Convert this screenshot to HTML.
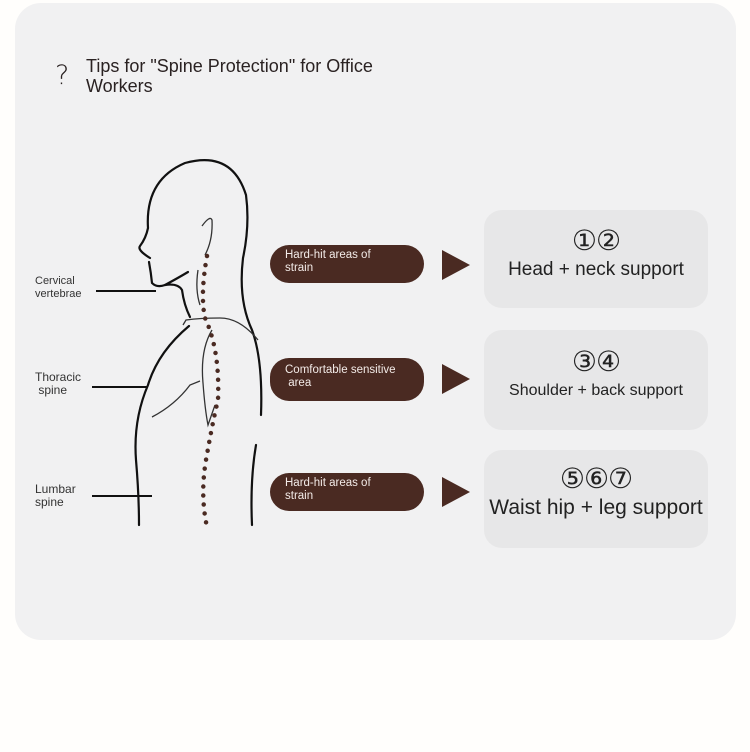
<!DOCTYPE html>
<html><head><meta charset="utf-8"><style>
html,body{margin:0;padding:0;background:#fffefc;width:750px;height:752px;overflow:hidden;font-family:"Liberation Sans","DejaVu Sans",sans-serif}
.card{position:absolute;left:15px;top:3px;width:721px;height:637px;background:#f1f1f2;border-radius:26px}
.t{position:absolute;color:#2a2222}
.pill{position:absolute;left:270px;width:154px;height:38px;background:#4a2a22;border-radius:19px;color:#f3ebe8;font-size:11.5px;line-height:13px;box-sizing:border-box;padding:4px 0 0 15px}
.arr{position:absolute;left:442px;width:0;height:0;border-top:15px solid transparent;border-bottom:15px solid transparent;border-left:28px solid #4a2a22}
.box{position:absolute;left:484px;width:224px;background:#e7e7e8;border-radius:18px;text-align:center;color:#222}
.box .n{font-size:28px;line-height:28px;font-family:"DejaVu Sans",sans-serif;font-weight:300;letter-spacing:-1px}
.lbl{position:absolute;font-size:11px;line-height:13px;color:#333}
</style></head><body>
<div class="card"></div>
<div class="t" style="left:55px;top:60px;font-size:27px;font-family:'DejaVu Sans',sans-serif;font-weight:300">?</div>
<div class="t" style="left:86px;top:56px;font-size:18px;line-height:20px">Tips for "Spine Protection" for Office<br>Workers</div>

<svg style="position:absolute;left:0;top:0" width="750" height="752">
<g fill="none" stroke="#111" stroke-width="2.2" stroke-linecap="round">
<path d="M150 258 Q137 250 140 246 Q146 238 148 228 Q145 180 185 163 Q232 150 246 195 Q250 225 243 258 Q238 300 252 330 Q263 360 261 415"/>
<path d="M149 262 Q151 273 152 283 Q157 288 165 285 Q178 278 188 272"/>
<path d="M165 285 Q178 283 182 290 Q184 305 190 317"/>
<path d="M189 326 Q158 352 148 385 Q133 420 136 460 Q139 495 139 525"/>
<path d="M256 445 Q250 480 252 525"/>
</g>
<g fill="none" stroke="#333" stroke-width="1.3">
<path d="M202 226 Q210 215 212 220 Q213 240 205 255"/>
<path d="M198 270 Q195 290 200 305"/>
<path d="M183 325 L186 320 Q200 318 220 318 Q240 318 258 340"/>
<path d="M212 330 Q200 350 203 383"/>
<path d="M152 417 Q175 405 190 385 L200 381"/>
<path d="M203 383 Q205 410 208 425 L215 405"/>
</g>
<g stroke="#111" stroke-width="2">
<line x1="96" y1="291" x2="156" y2="291"/>
<line x1="92" y1="387" x2="147" y2="387"/>
<line x1="92" y1="496" x2="152" y2="496"/>
</g>
<path d="M207 256 Q200 295 205 318 Q220 350 218 400 Q213 420 206 460 Q200 495 207 527" fill="none" stroke="#4a2a22" stroke-width="4.5" stroke-linecap="round" stroke-dasharray="0 9"/>
</svg>

<div class="lbl" style="left:35px;top:275px">Cervical<br>vertebrae</div>
<div class="lbl" style="left:35px;top:371px;font-size:12px">Thoracic<br>&nbsp;spine</div>
<div class="lbl" style="left:35px;top:483px;font-size:12px">Lumbar<br>spine</div>

<div class="pill" style="top:245px">Hard-hit areas of<br>strain</div>
<div class="pill" style="top:358px;height:43px;padding-top:6px">Comfortable sensitive<br>&nbsp;area</div>
<div class="pill" style="top:473px">Hard-hit areas of<br>strain</div>

<div class="arr" style="top:250px"></div>
<div class="arr" style="top:364px"></div>
<div class="arr" style="top:477px"></div>

<div class="box" style="top:210px;height:98px"><div class="n" style="margin-top:17px">①②</div><div style="font-size:19px;margin-top:4px">Head + neck support</div></div>
<div class="box" style="top:330px;height:100px"><div class="n" style="margin-top:18px">③④</div><div style="font-size:16px;margin-top:6px">Shoulder + back support</div></div>
<div class="box" style="top:450px;height:98px"><div class="n" style="margin-top:15px">⑤⑥⑦</div><div style="font-size:21px;margin-top:3px">Waist hip + leg support</div></div>
</body></html>
